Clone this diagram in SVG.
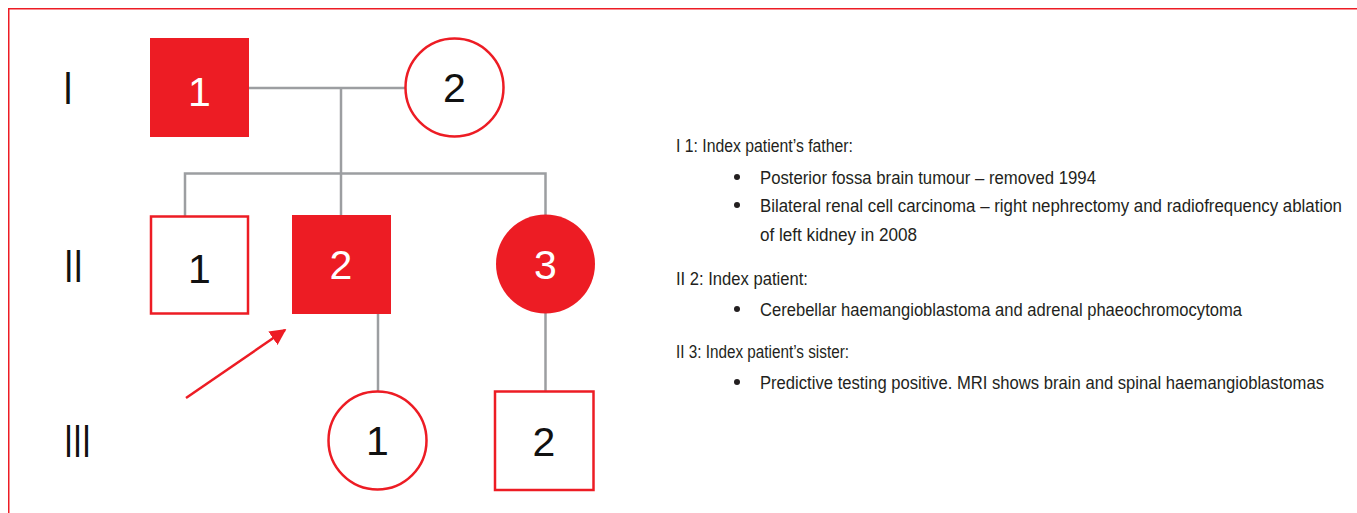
<svg xmlns="http://www.w3.org/2000/svg" width="1357" height="513" viewBox="0 0 1357 513">
<style>
.fill{fill:#ED1C24;stroke:none}
.open{fill:#fff;stroke:#ED1C24;stroke-width:2.5}
.num{font-family:"Liberation Sans",Arial,sans-serif;font-size:41px;text-anchor:middle}
.w{fill:#fff}
.k{fill:#111}
.gen{font-family:"Liberation Sans",Arial,sans-serif;font-size:46px;fill:#111}
.conn{fill:none;stroke:#9C9EA1;stroke-width:2.5}
.txt{font-family:"Liberation Sans",Arial,sans-serif;font-size:18.5px;fill:#231F20}
.dot{fill:#231F20}
</style>
<defs>
<marker id="ah" viewBox="0 0 10 10" refX="9" refY="5" markerWidth="6.5" markerHeight="6.5" orient="auto" markerUnits="strokeWidth">
<path d="M0,0 L10,5 L0,10 z" fill="#ED1C24"/>
</marker>
</defs>
<rect x="8.75" y="8.75" width="1360" height="520" fill="none" stroke="#ED1C24" stroke-width="1.5"/>
<g id="generations">
<text class="gen" x="63" y="104" textLength="10" lengthAdjust="spacingAndGlyphs">I</text>
<text class="gen" x="64" y="282" textLength="19" lengthAdjust="spacingAndGlyphs">II</text>
<text class="gen" x="64" y="457" textLength="27" lengthAdjust="spacingAndGlyphs">III</text>
</g>
<g id="connectors">
<path class="conn" d="M249,88 H406"/>
<path class="conn" d="M341,88 V173.5"/>
<path class="conn" d="M185,216 V173.5 H545.5 V215"/>
<path class="conn" d="M341,173.5 V215"/>
<path class="conn" d="M378,314 V391"/>
<path class="conn" d="M545.5,313 V391"/>
<line x1="186" y1="398" x2="285" y2="330" stroke="#ED1C24" stroke-width="2.5" marker-end="url(#ah)"/>
</g>
<g id="I-1"><rect class="fill" x="150" y="38" width="99" height="99"/><text class="num w" x="199.5" y="106">1</text></g>
<g id="I-2"><circle class="open" cx="454.5" cy="87.5" r="49"/><text class="num k" x="454.5" y="102">2</text></g>
<g id="II-1"><rect class="open" x="151" y="216.5" width="97" height="97"/><text class="num k" x="199.5" y="283">1</text></g>
<g id="II-2"><rect class="fill" x="292" y="215" width="99" height="99"/><text class="num w" x="341" y="279">2</text></g>
<g id="II-3"><circle class="fill" cx="545.5" cy="264" r="49.5"/><text class="num w" x="545.5" y="279">3</text></g>
<g id="III-1"><circle class="open" cx="377.5" cy="440.5" r="49"/><text class="num k" x="377.5" y="455">1</text></g>
<g id="III-2"><rect class="open" x="495" y="391.5" width="98.5" height="98.5"/><text class="num k" x="544" y="456">2</text></g>
<g id="legend">
<circle class="dot" cx="737" cy="177" r="3"/>
<circle class="dot" cx="737" cy="205" r="3"/>
<circle class="dot" cx="737" cy="309" r="3"/>
<circle class="dot" cx="737" cy="382" r="3"/>
<g class="txt" transform="scale(0.86,1)">
<text x="786" y="152" textLength="205.8" lengthAdjust="spacingAndGlyphs">I 1: Index patient’s father:</text>
<text x="883.7" y="184" textLength="390.7" lengthAdjust="spacingAndGlyphs">Posterior fossa brain tumour – removed 1994</text>
<text x="883.7" y="212" textLength="676.7" lengthAdjust="spacingAndGlyphs">Bilateral renal cell carcinoma – right nephrectomy and radiofrequency ablation</text>
<text x="883.7" y="241" textLength="182.6" lengthAdjust="spacingAndGlyphs">of left kidney in 2008</text>
<text x="786" y="285" textLength="153.5" lengthAdjust="spacingAndGlyphs">II 2: Index patient:</text>
<text x="883.7" y="316" textLength="560.5" lengthAdjust="spacingAndGlyphs">Cerebellar haemangioblastoma and adrenal phaeochromocytoma</text>
<text x="786" y="358" textLength="201.2" lengthAdjust="spacingAndGlyphs">II 3: Index patient’s sister:</text>
<text x="883.7" y="389" textLength="655.8" lengthAdjust="spacingAndGlyphs">Predictive testing positive. MRI shows brain and spinal haemangioblastomas</text>
</g>
</g>
</svg>
